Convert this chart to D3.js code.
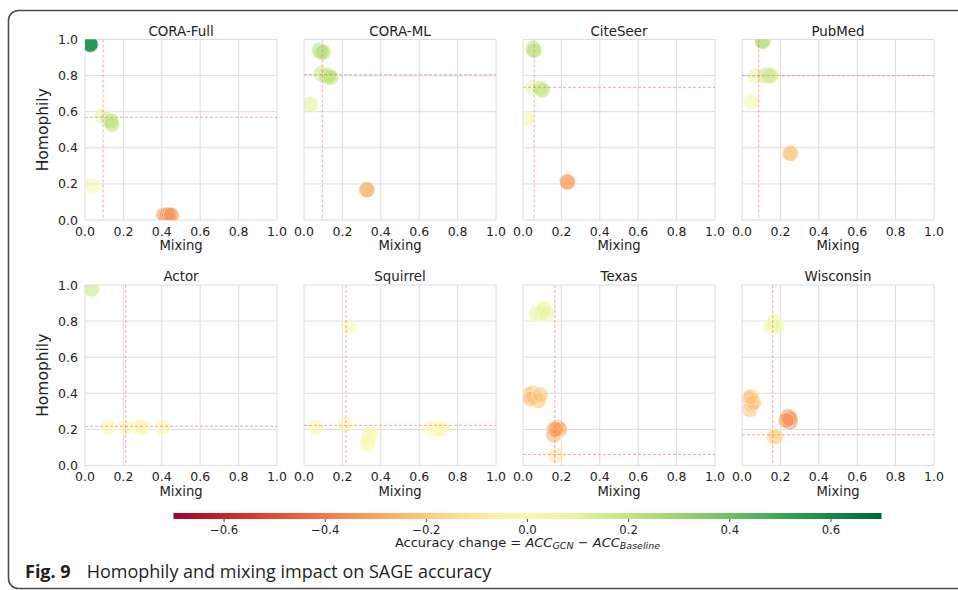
<!DOCTYPE html>
<html lang="en">
<head>
<meta charset="UTF-8">
<title>Homophily and mixing</title>
<script src="https://cdn.jsdelivr.net/npm/d3@7"></script>
<style>
    body { margin: 0; background: #fff; }
    svg text { font-family: "DejaVu Sans", sans-serif; fill: #222; }
    .grid line { stroke: #dcdcdc; stroke-width: 1; }
    .frame { fill: none; stroke: #4d4d4d; stroke-width: 1.6; }
    .caption text { font-family: "Open Sans", "Noto Sans", sans-serif; fill: #231f20; }
</style>
</head>
<body>
<script>
    const width = 958, height = 590;

    // one entry per panel
    const datasets = ["CORA-Full", "CORA-ML", "CiteSeer", "PubMed", "Actor", "Squirrel", "Texas", "Wisconsin"];
    const meanMixing    = [0.094, 0.095, 0.058, 0.087, 0.212, 0.219, 0.166, 0.160];
    const meanHomophily = [0.569, 0.805, 0.735, 0.800, 0.217, 0.222, 0.061, 0.170];

    // [mixing, homophily, accuracy change]
    const coraFull = [[0.026, 0.973, 0.60], [0.028, 0.972, 0.60], [0.027, 0.974, 0.58],
        [0.09, 0.575, 0.10], [0.12, 0.56, 0.16], [0.13, 0.55, 0.18], [0.135, 0.545, 0.20], [0.14, 0.53, 0.21],
        [0.035, 0.19, 0.05],
        [0.41, 0.027, -0.33], [0.42, 0.025, -0.35], [0.43, 0.028, -0.36], [0.44, 0.026, -0.34], [0.45, 0.027, -0.32]];
    const coraML = [[0.08, 0.94, 0.24], [0.09, 0.93, 0.25], [0.10, 0.93, 0.23],
        [0.09, 0.81, 0.18], [0.11, 0.80, 0.21], [0.12, 0.795, 0.22], [0.13, 0.80, 0.22], [0.14, 0.79, 0.21],
        [0.031, 0.64, 0.12],
        [0.326, 0.166, -0.28], [0.328, 0.168, -0.27]];
    const citeSeer = [[0.052, 0.95, 0.24], [0.058, 0.94, 0.22],
        [0.05, 0.735, 0.08], [0.09, 0.73, 0.19], [0.10, 0.72, 0.21],
        [0.018, 0.56, 0.05],
        [0.23, 0.212, -0.32], [0.232, 0.21, -0.31]];
    const pubMed = [[0.106, 0.99, 0.26], [0.108, 0.99, 0.24],
        [0.07, 0.80, 0.07], [0.12, 0.80, 0.18], [0.14, 0.80, 0.20], [0.15, 0.80, 0.15],
        [0.049, 0.655, 0.05],
        [0.249, 0.37, -0.22], [0.252, 0.368, -0.21]];
    const actor = [[0.033, 0.978, 0.20],
        [0.12, 0.213, -0.03], [0.212, 0.213, -0.02], [0.28, 0.213, -0.03], [0.30, 0.21, -0.03], [0.404, 0.215, -0.03]];
    const squirrel = [[0.231, 0.768, 0.05],
        [0.061, 0.213, -0.03], [0.217, 0.226, 0.0],
        [0.345, 0.18, 0.0], [0.34, 0.165, 0.0], [0.335, 0.14, 0.0], [0.33, 0.12, -0.01],
        [0.66, 0.205, 0.0], [0.69, 0.205, -0.01], [0.70, 0.20, 0.0], [0.72, 0.205, 0.0]];
    const texas = [[0.07, 0.84, 0.08], [0.09, 0.84, 0.07], [0.10, 0.85, 0.09], [0.11, 0.87, 0.08], [0.12, 0.84, 0.08],
        [0.03, 0.39, -0.22], [0.05, 0.40, -0.22], [0.06, 0.38, -0.21], [0.08, 0.36, -0.22], [0.04, 0.37, -0.23], [0.09, 0.39, -0.21],
        [0.16, 0.20, -0.30], [0.18, 0.21, -0.28], [0.19, 0.20, -0.30], [0.16, 0.17, -0.27], [0.17, 0.20, -0.32],
        [0.171, 0.056, -0.10]];
    const wisconsin = [[0.15, 0.77, 0.05], [0.17, 0.80, 0.06], [0.18, 0.77, 0.05], [0.16, 0.78, 0.05],
        [0.035, 0.37, -0.22], [0.05, 0.34, -0.22], [0.04, 0.31, -0.21], [0.06, 0.35, -0.23], [0.045, 0.38, -0.22],
        [0.24, 0.27, -0.35], [0.25, 0.24, -0.34], [0.25, 0.26, -0.36], [0.23, 0.25, -0.34],
        [0.167, 0.157, -0.18], [0.175, 0.16, -0.17]];
    const points = [coraFull, coraML, citeSeer, pubMed, actor, squirrel, texas, wisconsin];

    const axisTicks = [0, 0.2, 0.4, 0.6, 0.8, 1.0];
    const colorTicks = [-0.6, -0.4, -0.2, 0.0, 0.2, 0.4, 0.6];
    const colorDomain = [-0.7, 0.7];

    const svg = d3.select("body").append("svg")
        .attr("width", width).attr("height", height);

    // figure frame (open to the right like the journal layout)
    svg.append("rect").attr("class", "frame")
        .attr("x", 8.5).attr("y", 10.5).attr("width", 1000).attr("height", 578).attr("rx", 10);

    const color = d3.scaleSequential(d3.interpolateRdYlGn).domain(colorDomain);
    const fmt = d3.format(".1f");

    const pw = 192, ph = 180.5;
    const colX = [85, 304, 523, 742];
    const rowY = [39.5, 285];

    datasets.forEach(function(name, i) {
        const left = colX[i % 4], top = rowY[Math.floor(i / 4)];
        const x = d3.scaleLinear().domain([0, 1]).range([0, pw]);
        const y = d3.scaleLinear().domain([0, 1]).range([ph, 0]);
        const g = svg.append("g").attr("transform", `translate(${left},${top})`);

        g.append("clipPath").attr("id", "clip" + i)
            .append("rect").attr("width", pw).attr("height", ph);

        const grid = g.append("g").attr("class", "grid");
        grid.selectAll("line.v").data(axisTicks).enter().append("line")
            .attr("x1", d => x(d)).attr("x2", d => x(d)).attr("y1", 0).attr("y2", ph);
        grid.selectAll("line.h").data(axisTicks).enter().append("line")
            .attr("class", "h")
            .attr("y1", d => y(d)).attr("y2", d => y(d)).attr("x1", 0).attr("x2", pw);

        // x axis labels
        g.selectAll("text.xt").data(axisTicks).enter().append("text")
            .attr("class", "xt")
            .attr("x", d => x(d)).attr("y", ph + 15.5)
            .attr("text-anchor", "middle").style("font-size", "12.5px")
            .text(fmt);
        g.append("text").attr("x", pw / 2).attr("y", ph + 30)
            .attr("text-anchor", "middle").style("font-size", "13.2px").text("Mixing");

        if (i % 4 === 0) {
            g.selectAll("text.yt").data(axisTicks).enter().append("text")
                .attr("class", "yt")
                .attr("x", -7).attr("y", d => y(d) + 4.5)
                .attr("text-anchor", "end").style("font-size", "12.5px")
                .text(fmt);
            g.append("text")
                .attr("transform", `translate(${-37},${ph / 2}) rotate(-90)`)
                .attr("text-anchor", "middle").style("font-size", "15.5px").text("Homophily");
        }

        g.append("text").attr("x", pw / 2).attr("y", -4)
            .attr("text-anchor", "middle").style("font-size", "13.4px").text(name);

        const marks = g.append("g").attr("clip-path", `url(#clip${i})`);
        marks.selectAll("circle").data(points[i]).enter().append("circle")
            .attr("cx", d => x(d[0])).attr("cy", d => y(d[1])).attr("r", 8)
            .style("fill", d => color(d[2])).style("fill-opacity", 0.55)
            .style("stroke", "#fff").style("stroke-opacity", 0.6).style("stroke-width", 0.8);

        // mean lines
        marks.append("line")
            .attr("x1", x(meanMixing[i])).attr("x2", x(meanMixing[i]))
            .attr("y1", 0).attr("y2", ph)
            .style("stroke", "#e06666").style("stroke-opacity", 0.55).style("stroke-dasharray", "3,2");
        marks.append("line")
            .attr("x1", 0).attr("x2", pw)
            .attr("y1", y(meanHomophily[i])).attr("y2", y(meanHomophily[i]))
            .style("stroke", "#e06666").style("stroke-opacity", 0.55).style("stroke-dasharray", "3,2");
    });

    // colorbar
    const cbX = d3.scaleLinear().domain(colorDomain).range([173.5, 881.5]);
    const defs = svg.append("defs");
    const grad = defs.append("linearGradient").attr("id", "cbgrad");
    grad.selectAll("stop").data(d3.range(0, 1.0001, 0.05)).enter().append("stop")
        .attr("offset", d => d)
        .attr("stop-color", d => color(colorDomain[0] + d * (colorDomain[1] - colorDomain[0])));
    svg.append("rect")
        .attr("x", cbX(-0.7)).attr("y", 513).attr("width", cbX(0.7) - cbX(-0.7)).attr("height", 6)
        .style("fill", "url(#cbgrad)");
    const cbAxis = svg.append("g");
    cbAxis.selectAll("line").data(colorTicks).enter().append("line")
        .attr("x1", d => cbX(d)).attr("x2", d => cbX(d)).attr("y1", 519).attr("y2", 522)
        .style("stroke", "#222").style("stroke-width", 0.8);
    cbAxis.selectAll("text").data(colorTicks).enter().append("text")
        .attr("x", d => cbX(d)).attr("y", 533.5)
        .attr("text-anchor", "middle").style("font-size", "11.7px")
        .text(d => d3.format(".1f")(d).replace("-", "\u2212"));

    const lab = svg.append("text").attr("x", cbX(0)).attr("y", 547)
        .attr("text-anchor", "middle").style("font-size", "13px");
    lab.append("tspan").text("Accuracy change  = ");
    lab.append("tspan").style("font-style", "italic").text("ACC");
    lab.append("tspan").style("font-style", "italic").style("font-size", "9.5px").attr("dy", 2).text("GCN");
    lab.append("tspan").attr("dy", -2).text(" \u2212 ");
    lab.append("tspan").style("font-style", "italic").text("ACC");
    lab.append("tspan").style("font-style", "italic").style("font-size", "9.5px").attr("dy", 2).text("Baseline");

    // caption
    const cap = svg.append("g").attr("class", "caption").append("text")
        .attr("x", 25).attr("y", 578).style("font-size", "18px");
    cap.append("tspan").style("font-weight", "bold").text("Fig. 9");
    cap.append("tspan").attr("dx", 16).text("Homophily and mixing impact on SAGE accuracy");
</script>
</body>
</html>
